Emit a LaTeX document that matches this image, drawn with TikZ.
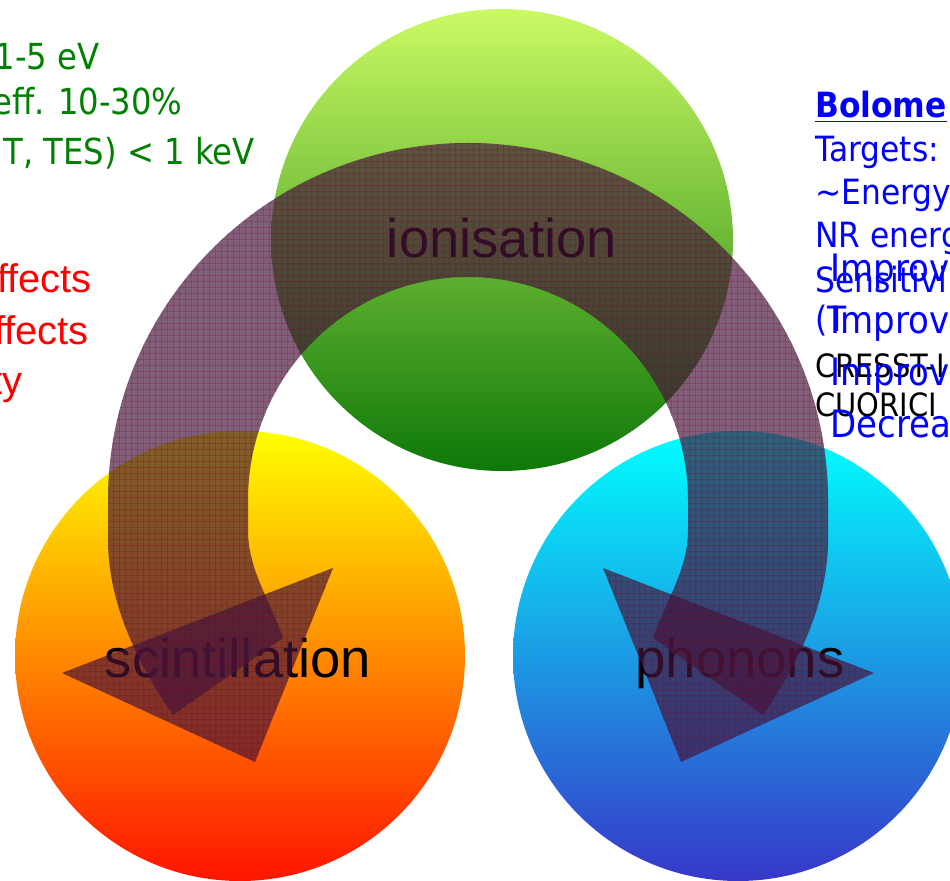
\documentclass[tikz,border=0pt]{standalone}
\usepackage{fontspec}
\setmainfont{Liberation Sans}
\newfontfamily\tah{DejaVu Sans}[FakeStretch=0.9]
\usetikzlibrary{patterns.meta}
\tikzdeclarepattern{
  name=fgrid,
  type=uncolored,
  bottom left={(0pt,0pt)},
  top right={(3.4pt,3.4pt)},
  tile size={(3.4pt,3.4pt)},
  code={\draw[line width=0.5pt] (0pt,0pt) -- (3.4pt,0pt) (0pt,0pt) -- (0pt,3.4pt);}
}
\definecolor{arrowc}{RGB}{70,20,60}
\definecolor{gridc}{RGB}{140,0,30}
\definecolor{gtop}{RGB}{202,250,100}
\definecolor{gmid}{RGB}{125,190,65}
\definecolor{gbot}{RGB}{14,120,8}
\definecolor{ytop}{RGB}{255,255,0}
\definecolor{ymid}{RGB}{255,200,0}
\definecolor{ybot}{RGB}{255,20,0}
\definecolor{ctop}{RGB}{0,255,255}
\definecolor{cmid}{RGB}{30,200,235}
\definecolor{cbot}{RGB}{55,55,200}
\definecolor{txtgreen}{RGB}{0,128,0}
\definecolor{txtblue}{RGB}{0,0,255}
\tikzset{
  band/.style={fill=arrowc, fill opacity=0.68, postaction={pattern=fgrid, pattern color=gridc}},
  greenball/.style={top color=gtop, middle color=gmid, bottom color=gbot},
  yellowball/.style={top color=ytop, middle color=ymid, bottom color=ybot},
  cyanball/.style={top color=ctop, middle color=cmid, bottom color=cbot},
  lbl/.style={font=\fontsize{31}{31}\selectfont, text=black, inner sep=0pt, anchor=base},
  gtxt/.style={font=\tah\fontsize{20.4}{20.4}\selectfont, text=txtgreen, inner sep=0pt, anchor=base east},
  rtxt/.style={font=\fontsize{22.7}{22.7}\selectfont, text=red, inner sep=0pt, anchor=base east},
  btxt/.style={font=\tah\fontsize{19.8}{19.8}\selectfont, text=txtblue, inner sep=0pt, anchor=base west},
  ktxt/.style={font=\tah\fontsize{18.3}{18.3}\selectfont, text=black, inner sep=0pt, anchor=base west},
  itxt/.style={font=\tah\fontsize{21.5}{21.5}\selectfont, text=txtblue, inner sep=0pt, anchor=base west}
}
\begin{document}
\begin{tikzpicture}[x=0.02cm,y=-0.02cm]
\useasboundingbox (0,0) rectangle (950,881);
\clip (0,0) rectangle (950,881);
\fill[white] (0,0) rectangle (950,881);
% circles
\shade[greenball] (502,240) circle[radius=231];
\shade[yellowball] (240,656) circle[radius=225];
\shade[cyanball] (738,656) circle[radius=225];
% labels
\node[lbl] (ion) at (502,258) {ionisation};
\node[lbl] (scin) at (238,677) {scintillation};
\node[lbl] (phon) at (740,677) {phonons};
% left text
\node[gtxt] (g1) at (100,70) {1-5 eV};
\node[gtxt] (g2) at (183,115) {eff. 10-30\%};
\node[gtxt] (g3) at (255,165) {T, TES) < 1 keV};
\node[rtxt] (r1) at (92,293) {ffects};
\node[rtxt] (r2) at (89,345) {ffects};
\node[rtxt] (r3) at (23,395) {ty};
% arrows
\path[band] (173,715) .. controls (135,660) and (108,600) .. (108,540) -- (108,500)
  arc[start angle=180, end angle=360, x radius=360, y radius=357]
  -- (828,540) .. controls (828,600) and (801,660) .. (763,715)
  -- (653,638) .. controls (666,600) and (688,570) .. (688,530) -- (688,500)
  arc[start angle=0, end angle=-180, x radius=220, y radius=223]
  -- (248,530) .. controls (248,570) and (270,600) .. (283,638) -- cycle;
\path[band] (62,673) -- (333,568) -- (255,762) -- cycle;
\path[band] (874,673) -- (603,568) -- (681,762) -- cycle;
% right text
\node[btxt] (b1) at (815,118) {\textbf{\underline{Bolome}}};
\node[btxt] (b2) at (815,162) {Targets:};
\node[btxt] (b3) at (815,205) {\textasciitilde Energy};
\node[btxt] (b4) at (815,248) {NR energ};
\node[btxt] (b5) at (815,293) {Sensitivi};
\node[btxt] (b6) at (815,332) {(T};
\node[ktxt] (k1) at (815,378) {CRESST-I};
\node[ktxt] (k2) at (815,417) {CUORICI};
\node[itxt] (i1) at (830,282) {Improv};
\node[itxt] (i2) at (830,334) {Improv};
\node[itxt] (i3) at (830,386) {Improv};
\node[itxt] (i4) at (830,438) {Decrea};
\end{tikzpicture}
\end{document}
